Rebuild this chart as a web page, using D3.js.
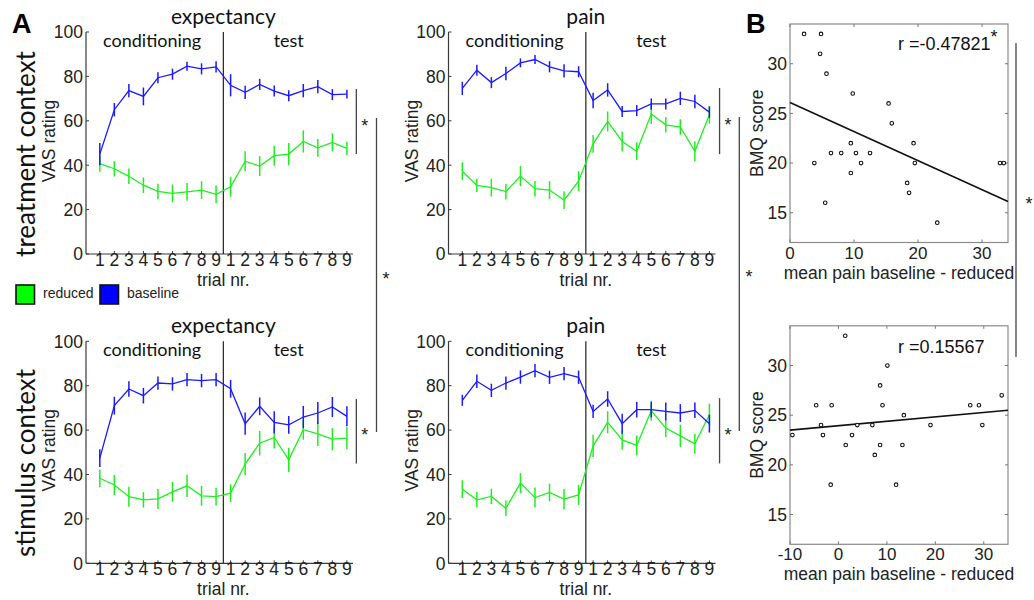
<!DOCTYPE html>
<html><head><meta charset="utf-8">
<script src="https://cdn.jsdelivr.net/npm/d3@7"></script>
<style>
html,body{margin:0;padding:0;background:#fff;}
svg{display:block;}
.num{font-family:"Liberation Sans",Arial,sans-serif;}
.cal{font-family:Lato,"Open Sans",sans-serif;}
</style></head>
<body>
<svg id="chart" width="1034" height="600"></svg>
<script>
// ---------------- DATA ----------------
const trials = d3.range(1, 19);
const trialLabels = ["1","2","3","4","5","6","7","8","9","1","2","3","4","5","6","7","8","9"];
const yTicksVAS = [0, 20, 40, 60, 80, 100];
const seriesNames = ["reduced", "baseline"];

// expectancy, treatment context
const expTreatBaseline = [45,65,73.6,71,79.4,81,84.6,83.4,84.3,76,72.8,76.4,73.4,71.3,73.6,75.4,71.8,72];
const expTreatBaselineErr = [5,3,3,4,2.5,2.5,2,2.5,2.5,5,3,2.5,2.5,2.5,3,3,2.5,2];
const expTreatReduced = [40.7,38.4,35,31,28.2,27.3,28,28.8,26.9,30.3,41.8,39.6,44.3,45,50.7,47.8,50.3,47.6];
const expTreatReducedErr = [3.7,3.5,3.5,3.5,3.5,4,4,4,4,4.5,4.5,4.5,4.5,5,5,4,4,3];

// pain, treatment context
const painTreatBaseline = [74.6,82.8,77.2,81.3,86.1,87.6,84.3,82.5,82.1,69.1,73.9,64.2,64.6,67.6,67.6,70.1,68.7,63.9];
const painTreatBaselineErr = [3,2.5,2.5,3,2,2,2.5,3,2.5,3.5,3,2.5,2.5,2.5,2.5,3,3,2.5];
const painTreatReduced = [37.3,30.9,29.9,28.1,35.1,29.4,28.8,24.3,32.8,49.6,59.7,50.7,46.3,63.1,58.2,57.2,46.3,62.7];
const painTreatReducedErr = [4,3,4,3.5,4.5,3.5,4,4,4.5,4,4.5,4.5,4,4.5,3.5,3.5,4.5,4];

// expectancy, stimulus context
const expStimBaseline = [47.4,71,78.5,75.5,81.2,80.8,82.7,82.3,82.7,78.6,62.9,70.7,63.5,62.4,65.9,67.7,70.4,66.2];
const expStimBaselineErr = [4,4,3.5,3.5,3,3,3,3,3,4,5,4,5,4,5,5,4.5,4.5];
const expStimReduced = [38.3,35.3,30,28.6,29,32.2,34.9,30.4,30,31.6,44.7,54.1,56.7,46.6,60.2,58.3,55.9,56.4];
const expStimReducedErr = [4,4.5,4.5,3.5,4.5,4.5,5,4.5,4,4,5,5.5,5,5.5,4.5,5.5,5,5];

// pain, stimulus context
const painStimBaseline = [73.4,82,77.9,81.2,83.9,86.8,83.8,85.4,83.8,68.4,74,62.9,69.2,69.2,68.4,67.7,68.9,62.9];
const painStimBaselineErr = [2.5,3,3,3,3,3,3,3,3,3,3.5,4.5,3.5,3.5,4,4,3.5,4];
const painStimReduced = [33.4,28.6,30.1,24.8,36.1,29.6,31.9,28.9,30.8,52.9,63.5,55.6,53.1,68.7,60.9,57.4,53.8,66.9];
const painStimReducedErr = [4,3.5,3.5,3.5,4.5,4.5,4,4.5,4.5,5,5,4.5,4.5,4.5,4,5,4.5,5];

// B: scatter, treatment context
const treatDiff = [2.2,4.85,4.7,5.7,9.8,15.4,15.9,3.8,6.4,8.0,9.5,10.3,9.5,11.1,12.5,5.5,19.3,19.5,18.3,18.6,23.0,32.8,33.4];
const treatBMQ  = [33,33,31,29,27,26,24,20,21,21,22,21,19,20,21,16,22,20,18,17,14,20,20];
const treatFit = [26.1, -0.293];   // intercept, slope
const treatR = "r =-0.47821";

// B: scatter, stimulus context
const stimDiff = [-9.5,-4.6,-3.6,-3.2,-1.4,-1.6,1.4,1.5,2.8,3.9,7.0,7.5,8.6,8.6,9.1,10.1,11.9,13.2,13.5,19.0,27.2,29.0,29.7,33.7];
const stimBMQ  = [23,26,24,23,26,18,33,22,23,24,24,21,28,22,26,30,18,22,25,24,26,26,24,27];
const stimFit = [23.94, 0.0444];
const stimR = "r =0.15567";

const bmqTicks = [15, 20, 25, 30];
const treatXTicks = [0, 10, 20, 30];
const stimXTicks = [-10, 0, 10, 20, 30];

// ---------------- STYLE ----------------
const GREEN = "#1ef01e", BLUE = "#1a1aff";
const AXC = "#3a3a3a";

const svg = d3.select("#chart");

function asterisk(x, cy, size = 18) {
  svg.append("text").attr("class", "num").attr("x", x).attr("y", cy + size * 0.57)
    .attr("text-anchor", "middle").attr("font-size", size).attr("fill", "#222").text("*");
}

function linePanel(cfg) {
  const x = d3.scaleLinear().domain([0.05, 18.42]).range([cfg.left, cfg.left + 267]);
  const y = d3.scaleLinear().domain([0, 100]).range([cfg.bottom, cfg.bottom - 222]);
  const g = svg.append("g");

  // axes
  g.append("line").attr("x1", x.range()[0]).attr("x2", x.range()[1]).attr("y1", y(0)).attr("y2", y(0))
    .attr("stroke", AXC).attr("stroke-width", 1.2);
  g.append("line").attr("x1", x.range()[0]).attr("x2", x.range()[0]).attr("y1", y(0)).attr("y2", y(100))
    .attr("stroke", AXC).attr("stroke-width", 1.2);
  yTicksVAS.forEach(v => {
    g.append("line").attr("x1", x.range()[0]).attr("x2", x.range()[0] + 3).attr("y1", y(v)).attr("y2", y(v))
      .attr("stroke", AXC).attr("stroke-width", 1);
    g.append("text").attr("class", "num").attr("x", x.range()[0] - 3).attr("y", y(v)).attr("dy", "0.36em")
      .attr("text-anchor", "end").attr("font-size", 17.5).attr("fill", "#222").text(v);
  });
  trials.forEach((t, i) => {
    g.append("line").attr("x1", x(t)).attr("x2", x(t)).attr("y1", y(0)).attr("y2", y(0) - 3)
      .attr("stroke", AXC).attr("stroke-width", 1);
    g.append("text").attr("class", "num").attr("x", x(t)).attr("y", y(0) + 12)
      .attr("text-anchor", "middle").attr("font-size", 17.5).attr("fill", "#222").text(trialLabels[i]);
  });
  // divider
  g.append("line").attr("x1", x(9.5)).attr("x2", x(9.5)).attr("y1", y(0)).attr("y2", y(100))
    .attr("stroke", "#222").attr("stroke-width", 1.2);

  // series
  const series = [
    {vals: cfg.reduced, err: cfg.reducedErr, color: GREEN},
    {vals: cfg.baseline, err: cfg.baselineErr, color: BLUE}
  ];
  series.forEach(s => {
    const line = d3.line().x((d, i) => x(trials[i])).y(d => y(d));
    g.append("path").attr("d", line(s.vals)).attr("fill", "none").attr("stroke", s.color).attr("stroke-width", 1.3);
    g.selectAll(null).data(s.vals).enter().append("line")
      .attr("x1", (d, i) => x(trials[i])).attr("x2", (d, i) => x(trials[i]))
      .attr("y1", (d, i) => y(d - s.err[i])).attr("y2", (d, i) => y(d + s.err[i]))
      .attr("stroke", s.color).attr("stroke-width", 1.5);
  });

  // texts
  g.append("text").attr("class", "cal").attr("x", x(9.5)).attr("y", y(100) - 8)
    .attr("text-anchor", "middle").attr("font-size", 21).attr("fill", "#111").text(cfg.title);
  g.append("text").attr("class", "cal").attr("x", x(4.6)).attr("y", y(100) + 14.5)
    .attr("text-anchor", "middle").attr("font-size", 18).attr("fill", "#111").text("conditioning");
  g.append("text").attr("class", "cal").attr("x", x(14)).attr("y", y(100) + 14.5)
    .attr("text-anchor", "middle").attr("font-size", 18).attr("fill", "#111").text("test");
  g.append("text").attr("class", "num").attr("x", x(9.5)).attr("y", y(0) + 32)
    .attr("text-anchor", "middle").attr("font-size", 17.5).attr("fill", "#222").text("trial nr.");
  const cy = (y(0) + y(100)) / 2 - 2;
  g.append("text").attr("class", "num").attr("transform", `translate(${x.range()[0] - 31},${cy}) rotate(-90)`)
    .attr("text-anchor", "middle").attr("font-size", 17.5).attr("fill", "#222").text("VAS rating");

  // significance bracket between baseline and reduced (test phase)
  g.append("line").attr("x1", x(cfg.sigX)).attr("x2", x(cfg.sigX)).attr("y1", y(cfg.sigY[0])).attr("y2", y(cfg.sigY[1]))
    .attr("stroke", "#444").attr("stroke-width", 1.3);
  asterisk(x(cfg.sigX) + 8.5, y((cfg.sigY[0] + cfg.sigY[1]) / 2));
}

linePanel({left: 86, bottom: 254, title: "expectancy",
  baseline: expTreatBaseline, baselineErr: expTreatBaselineErr, reduced: expTreatReduced, reducedErr: expTreatReducedErr,
  sigX: 18.65, sigY: [74.3, 45]});
linePanel({left: 448.5, bottom: 254, title: "pain",
  baseline: painTreatBaseline, baselineErr: painTreatBaselineErr, reduced: painTreatReduced, reducedErr: painTreatReducedErr,
  sigX: 18.7, sigY: [74.8, 45]});
linePanel({left: 86, bottom: 563.3, title: "expectancy",
  baseline: expStimBaseline, baselineErr: expStimBaselineErr, reduced: expStimReduced, reducedErr: expStimReducedErr,
  sigX: 18.65, sigY: [74, 45]});
linePanel({left: 448.5, bottom: 563.3, title: "pain",
  baseline: painStimBaseline, baselineErr: painStimBaselineErr, reduced: painStimReduced, reducedErr: painStimReducedErr,
  sigX: 18.7, sigY: [74.4, 45]});

// row labels
svg.append("text").attr("class", "cal").attr("transform", "translate(35,154) rotate(-90)")
  .attr("text-anchor", "middle").attr("font-size", 26).attr("fill", "#111").text("treatment context");
svg.append("text").attr("class", "cal").attr("transform", "translate(35,463) rotate(-90)")
  .attr("text-anchor", "middle").attr("font-size", 26).attr("fill", "#111").text("stimulus context");

// panel letters
svg.append("text").attr("class", "num").attr("x", 12).attr("y", 33).attr("font-size", 27).attr("font-weight", "bold").text("A");
svg.append("text").attr("class", "num").attr("x", 746).attr("y", 33).attr("font-size", 27).attr("font-weight", "bold").text("B");

// legend
const legColors = ["#00ff00", "#0000ff"];
const legX = [16, 100];
seriesNames.forEach((n, i) => {
  svg.append("rect").attr("x", legX[i]).attr("y", 285).attr("width", 18.5).attr("height", 19)
    .attr("fill", legColors[i]).attr("stroke", "#111").attr("stroke-width", 1.6);
  svg.append("text").attr("class", "num").attr("x", legX[i] + 27).attr("y", 298)
    .attr("font-size", 14).attr("fill", "#222").text(n);
});

// long significance lines
[[376.5, 118, 432, 386, 275], [739.3, 117, 431, 749, 273], [1016, 43, 357, 1029, 200]].forEach(s => {
  svg.append("line").attr("x1", s[0]).attr("x2", s[0]).attr("y1", s[1]).attr("y2", s[2])
    .attr("stroke", "#444").attr("stroke-width", 1.3);
  asterisk(s[3], s[4]);
});

// scatter panels
function scatterPanel(cfg) {
  const x = d3.scaleLinear().domain(cfg.xDom).range([790, 1008]);
  const y = d3.scaleLinear().domain([12, 34]).range([cfg.bottom, cfg.bottom - 218.5]);
  const g = svg.append("g");
  const [x0, x1] = x.range(), [y0, y1] = y.range();
  g.append("rect").attr("x", x0).attr("y", y1).attr("width", x1 - x0).attr("height", y0 - y1)
    .attr("fill", "none").attr("stroke", "#8a8a8a").attr("stroke-width", 1.2);
  bmqTicks.forEach(v => {
    g.append("line").attr("x1", x0).attr("x2", x0 + 3).attr("y1", y(v)).attr("y2", y(v)).attr("stroke", "#777");
    g.append("line").attr("x1", x1).attr("x2", x1 - 3).attr("y1", y(v)).attr("y2", y(v)).attr("stroke", "#777");
    g.append("text").attr("class", "num").attr("x", x0 - 3).attr("y", y(v)).attr("dy", "0.36em")
      .attr("text-anchor", "end").attr("font-size", 17.5).attr("fill", "#222").text(v);
  });
  cfg.xTicks.forEach(v => {
    g.append("line").attr("x1", x(v)).attr("x2", x(v)).attr("y1", y0).attr("y2", y0 - 3).attr("stroke", "#777");
    g.append("line").attr("x1", x(v)).attr("x2", x(v)).attr("y1", y1).attr("y2", y1 + 3).attr("stroke", "#777");
    g.append("text").attr("class", "num").attr("x", x(v)).attr("y", y0 + 16)
      .attr("text-anchor", "middle").attr("font-size", 17).attr("fill", "#222").text(v);
  });
  // fit line
  const fx = x.domain();
  g.append("line").attr("x1", x(fx[0])).attr("x2", x(fx[1]))
    .attr("y1", y(cfg.fit[0] + cfg.fit[1] * fx[0])).attr("y2", y(cfg.fit[0] + cfg.fit[1] * fx[1]))
    .attr("stroke", "#111").attr("stroke-width", 1.6);
  // points
  g.selectAll(null).data(cfg.xs).enter().append("circle")
    .attr("cx", d => x(d)).attr("cy", (d, i) => y(cfg.ys[i])).attr("r", 1.8)
    .attr("fill", "#fff").attr("stroke", "#111").attr("stroke-width", 1.1);
  // labels
  g.append("text").attr("class", "num").attr("x", 898).attr("y", cfg.rY)
    .attr("font-size", 18).attr("fill", "#111").text(cfg.r)
    .call(t => { if (cfg.star) t.append("tspan").attr("dy", -7).attr("font-size", 18).text("*"); });
  g.append("text").attr("class", "num").attr("x", (x0 + x1) / 2).attr("y", y0 + 36)
    .attr("text-anchor", "middle").attr("font-size", 17.5).attr("fill", "#222").text("mean pain baseline - reduced");
  g.append("text").attr("class", "num").attr("transform", `translate(${x0 - 27},${(y0 + y1) / 2}) rotate(-90)`)
    .attr("text-anchor", "middle").attr("font-size", 17.5).attr("fill", "#222").text("BMQ score");
}

scatterPanel({xDom: [0, 34.05], bottom: 242.5, xTicks: treatXTicks, xs: treatDiff, ys: treatBMQ,
  fit: treatFit, r: treatR, star: true, rY: 50});
scatterPanel({xDom: [-10, 35], bottom: 544.3, xTicks: stimXTicks, xs: stimDiff, ys: stimBMQ,
  fit: stimFit, r: stimR, star: false, rY: 353});
</script>
</body></html>
